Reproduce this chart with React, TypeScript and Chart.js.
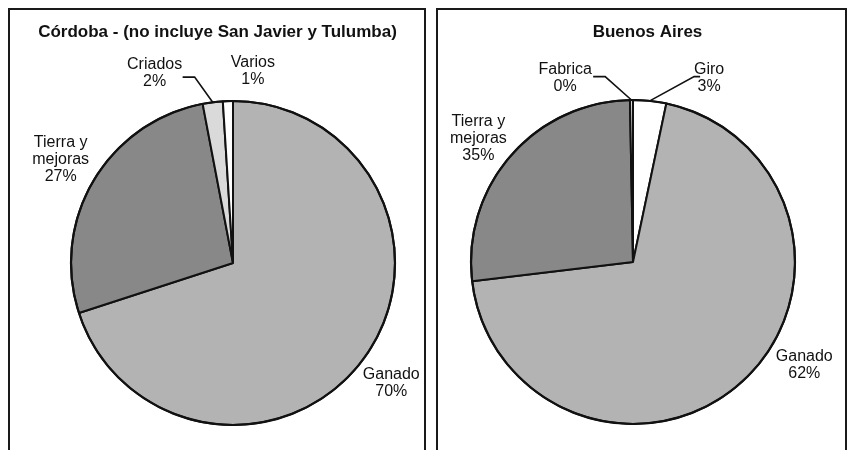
import React, { useEffect, useRef } from "react";
import { Chart, registerables } from "chart.js";

Chart.register(...registerables);

// ---- Data ----
// Córdoba (no incluye San Javier y Tulumba)
const cordobaCategories = ["Ganado", "Tierra y\nmejoras", "Criados", "Varios"];
const cordobaValues = [70, 27, 2, 1];
const cordobaPercentLabels = ["70%", "27%", "2%", "1%"];

// Buenos Aires: wedge sizes as drawn in the original figure; printed labels kept as printed
const buenosAiresCategories = ["Giro", "Ganado", "Tierra y\nmejoras", "Fabrica"];
const buenosAiresValues = [3.3, 69.8, 26.6, 0.3];
const buenosAiresPercentLabels = ["3%", "62%", "35%", "0%"];

// ---- Styles ----
const cordobaColors = ["#b3b3b3", "#888888", "#dadada", "#ffffff"];
const buenosAiresColors = ["#ffffff", "#b3b3b3", "#888888", "#dadada"];

// label placement: polar factor of radius + pixel nudges, optional leader [elbowDx, dy, endDx]
const cordobaLabelLayout = [
  { f: 1.2, dx: 1, dy: 6 },
  { f: 1.2, dx: -5, dy: -4 },
  { f: 1.2, dx: -54, dy: 3, leader: [40, 4, 28] },
  { f: 1.2, dx: 26, dy: 2 },
];
const buenosAiresLabelLayout = [
  { f: 1.2, dx: 56, dy: 9, leader: [-15, -1, -9] },
  { f: 1.2, dx: 40, dy: -40 },
  { f: 1.2, dx: -8, dy: 4 },
  { f: 1.2, dx: -66, dy: 10, leader: [40, -1, 28] },
];

const FONT = "'Liberation Sans', Arial, Helvetica, sans-serif";

const panelTitlePlugin = {
  id: "panelTitle",
  afterDraw(chart: any, _args: any, opts: any) {
    const ctx = chart.ctx;
    ctx.save();
    ctx.font = `bold 17px ${FONT}`;
    ctx.fillStyle = "#111";
    ctx.textAlign = "center";
    ctx.textBaseline = "middle";
    ctx.fillText(opts.text, opts.x, opts.y);
    ctx.restore();
  },
};

const sliceLabelPlugin = {
  id: "sliceLabels",
  afterDatasetsDraw(chart: any, _args: any, opts: any) {
    const ctx = chart.ctx;
    const meta = chart.getDatasetMeta(0);
    ctx.save();
    // outer ring a bit heavier
    const first = meta.data[0];
    if (first) {
      const p = first.getProps(["x", "y", "outerRadius"], true);
      ctx.beginPath();
      ctx.arc(p.x, p.y, p.outerRadius, 0, Math.PI * 2);
      ctx.lineWidth = 2.2;
      ctx.strokeStyle = "#111";
      ctx.stroke();
    }
    meta.data.forEach((arc: any, i: number) => {
      const { x, y, startAngle, endAngle, outerRadius } = arc.getProps(
        ["x", "y", "startAngle", "endAngle", "outerRadius"],
        true
      );
      const mid = (startAngle + endAngle) / 2;
      const lay = opts.layout[i];
      const lx = x + Math.cos(mid) * outerRadius * lay.f + lay.dx;
      const ly = y + Math.sin(mid) * outerRadius * lay.f + lay.dy;
      const lines = String(opts.categories[i]).split("\n").concat([opts.percents[i]]);
      const lh = 17;
      ctx.font = `16px ${FONT}`;
      ctx.fillStyle = "#111";
      ctx.textAlign = "center";
      ctx.textBaseline = "middle";
      lines.forEach((t: string, k: number) => {
        ctx.fillText(t, lx, ly - ((lines.length - 1) * lh) / 2 + k * lh);
      });
      if (lay.leader) {
        const ex = x + Math.cos(mid) * outerRadius;
        const ey = y + Math.sin(mid) * outerRadius;
        ctx.beginPath();
        ctx.moveTo(ex, ey);
        ctx.lineTo(lx + lay.leader[0], ly + lay.leader[1]);
        ctx.lineTo(lx + lay.leader[2], ly + lay.leader[1]);
        ctx.lineWidth = 1.6;
        ctx.strokeStyle = "#111";
        ctx.stroke();
      }
    });
    ctx.restore();
  },
};

function PiePanel(props: {
  title: string;
  titleX: number;
  categories: string[];
  values: number[];
  percents: string[];
  colors: string[];
  layoutCfg: any[];
  padding: { left: number; right: number; top: number; bottom: number };
  width: number;
  height: number;
}) {
  const ref = useRef<HTMLCanvasElement | null>(null);
  useEffect(() => {
    if (!ref.current) return;
    const chart = new Chart(ref.current, {
      type: "pie",
      data: {
        labels: props.categories,
        datasets: [
          {
            data: props.values,
            backgroundColor: props.colors,
            borderColor: "#111",
            borderWidth: 2,
          },
        ],
      },
      options: {
        responsive: false,
        animation: false,
        events: [],
        radius: 162,
        layout: { padding: props.padding },
        plugins: {
          legend: { display: false },
          tooltip: { enabled: false },
          title: { display: false },
          panelTitle: { text: props.title, x: props.titleX, y: 22 },
          sliceLabels: {
            layout: props.layoutCfg,
            categories: props.categories,
            percents: props.percents,
          },
        } as any,
      } as any,
      plugins: [sliceLabelPlugin, panelTitlePlugin],
    });
    return () => chart.destroy();
  }, []);
  return (
    <canvas
      ref={ref}
      width={props.width}
      height={props.height}
      style={{ display: "block", width: props.width, height: props.height }}
    />
  );
}

export default function App() {
  const panelStyle: React.CSSProperties = {
    position: "absolute",
    top: 0,
    height: 460,
    border: "2px solid #1a1a1a",
    background: "#fff",
    overflow: "hidden",
  };
  return (
    <div
      style={{
        position: "fixed",
        left: 8,
        top: 8,
        width: 842,
        height: 442,
        overflow: "hidden",
        background: "#fff",
      }}
    >
      <div style={{ ...panelStyle, left: 0, width: 414 }}>
        <PiePanel
          title="Córdoba - (no incluye San Javier y Tulumba)"
          titleX={207.5}
          categories={cordobaCategories}
          values={cordobaValues}
          percents={cordobaPercentLabels}
          colors={cordobaColors}
          layoutCfg={cordobaLabelLayout}
          padding={{ left: 32, right: 0, top: 66, bottom: 0 }}
          width={414}
          height={440}
        />
      </div>
      <div style={{ ...panelStyle, left: 428, width: 407 }}>
        <PiePanel
          title="Buenos Aires"
          titleX={209.5}
          categories={buenosAiresCategories}
          values={buenosAiresValues}
          percents={buenosAiresPercentLabels}
          colors={buenosAiresColors}
          layoutCfg={buenosAiresLabelLayout}
          padding={{ left: 0, right: 17, top: 64, bottom: 0 }}
          width={407}
          height={440}
        />
      </div>
    </div>
  );
}
